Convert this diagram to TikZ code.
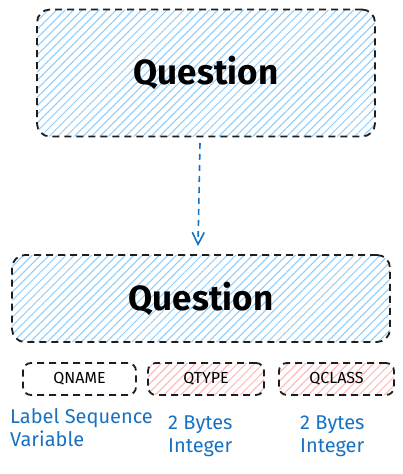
\documentclass[tikz,border=0pt]{standalone}
\usepackage{fontspec}
\setmainfont{Fira Sans}
\usetikzlibrary{patterns.meta,arrows.meta,positioning}
\definecolor{ink}{HTML}{1E1E1E}
\definecolor{pen}{HTML}{1971C2}
\definecolor{hblue}{HTML}{8CCBFA}
\definecolor{hred}{HTML}{FFB3B3}

\begin{document}
\begin{tikzpicture}[x=1pt,y=-1pt,
   box/.style={draw=ink,line width=1.8pt,dash pattern=on 7pt off 5pt,rounded corners=13pt,inner sep=0pt},
   bluehatch/.style={pattern={Lines[angle=45,distance=6pt,line width=1pt]},pattern color=hblue},
   redhatch/.style={pattern={Lines[angle=45,distance=6pt,line width=1pt]},pattern color=hred},
   field/.style={box,rounded corners=8pt,minimum height=32pt,font=\fontsize{16}{18}\selectfont},
   note/.style={text=pen,align=left,anchor=north west,inner sep=0pt,font=\fontsize{20}{23}\selectfont},
   conn/.style={draw=pen,line width=1.6pt,dash pattern=on 6pt off 5pt,-{Straight Barb[length=12pt,width=12pt]}}]
   % frame
   \useasboundingbox (0,0) rectangle (403,474);
   % boxes
   \node[box,bluehatch,minimum width=338pt,minimum height=127pt,
         font=\fontsize{35}{40}\selectfont\bfseries] (qtop) at (206,73) {Question};
   \node[box,bluehatch,minimum width=378pt,minimum height=87pt,
         font=\fontsize{35}{40}\selectfont\bfseries] (qbot) at (201,298.5) {Question};
   \node[field,minimum width=113pt]          (qname)  at (79.5,379) {QNAME};
   \node[field,redhatch,minimum width=116pt] (qtype)  at (206,379)  {QTYPE};
   \node[field,redhatch,minimum width=115pt] (qclass) at (336.5,379) {QCLASS};
   % notes
   \node[note] (nname)  at (10,408)  {Label Sequence\\Variable};
   \node[note] (ntype)  at (168,416) {2 Bytes\\Integer};
   \node[note] (nclass) at (300,416) {2 Bytes\\Integer};
   % arrow
   \draw[conn] ([xshift=-6pt,yshift=-6pt]qtop.south) -- ([xshift=-3pt,yshift=8pt]qbot.north);
\end{tikzpicture}
\end{document}
